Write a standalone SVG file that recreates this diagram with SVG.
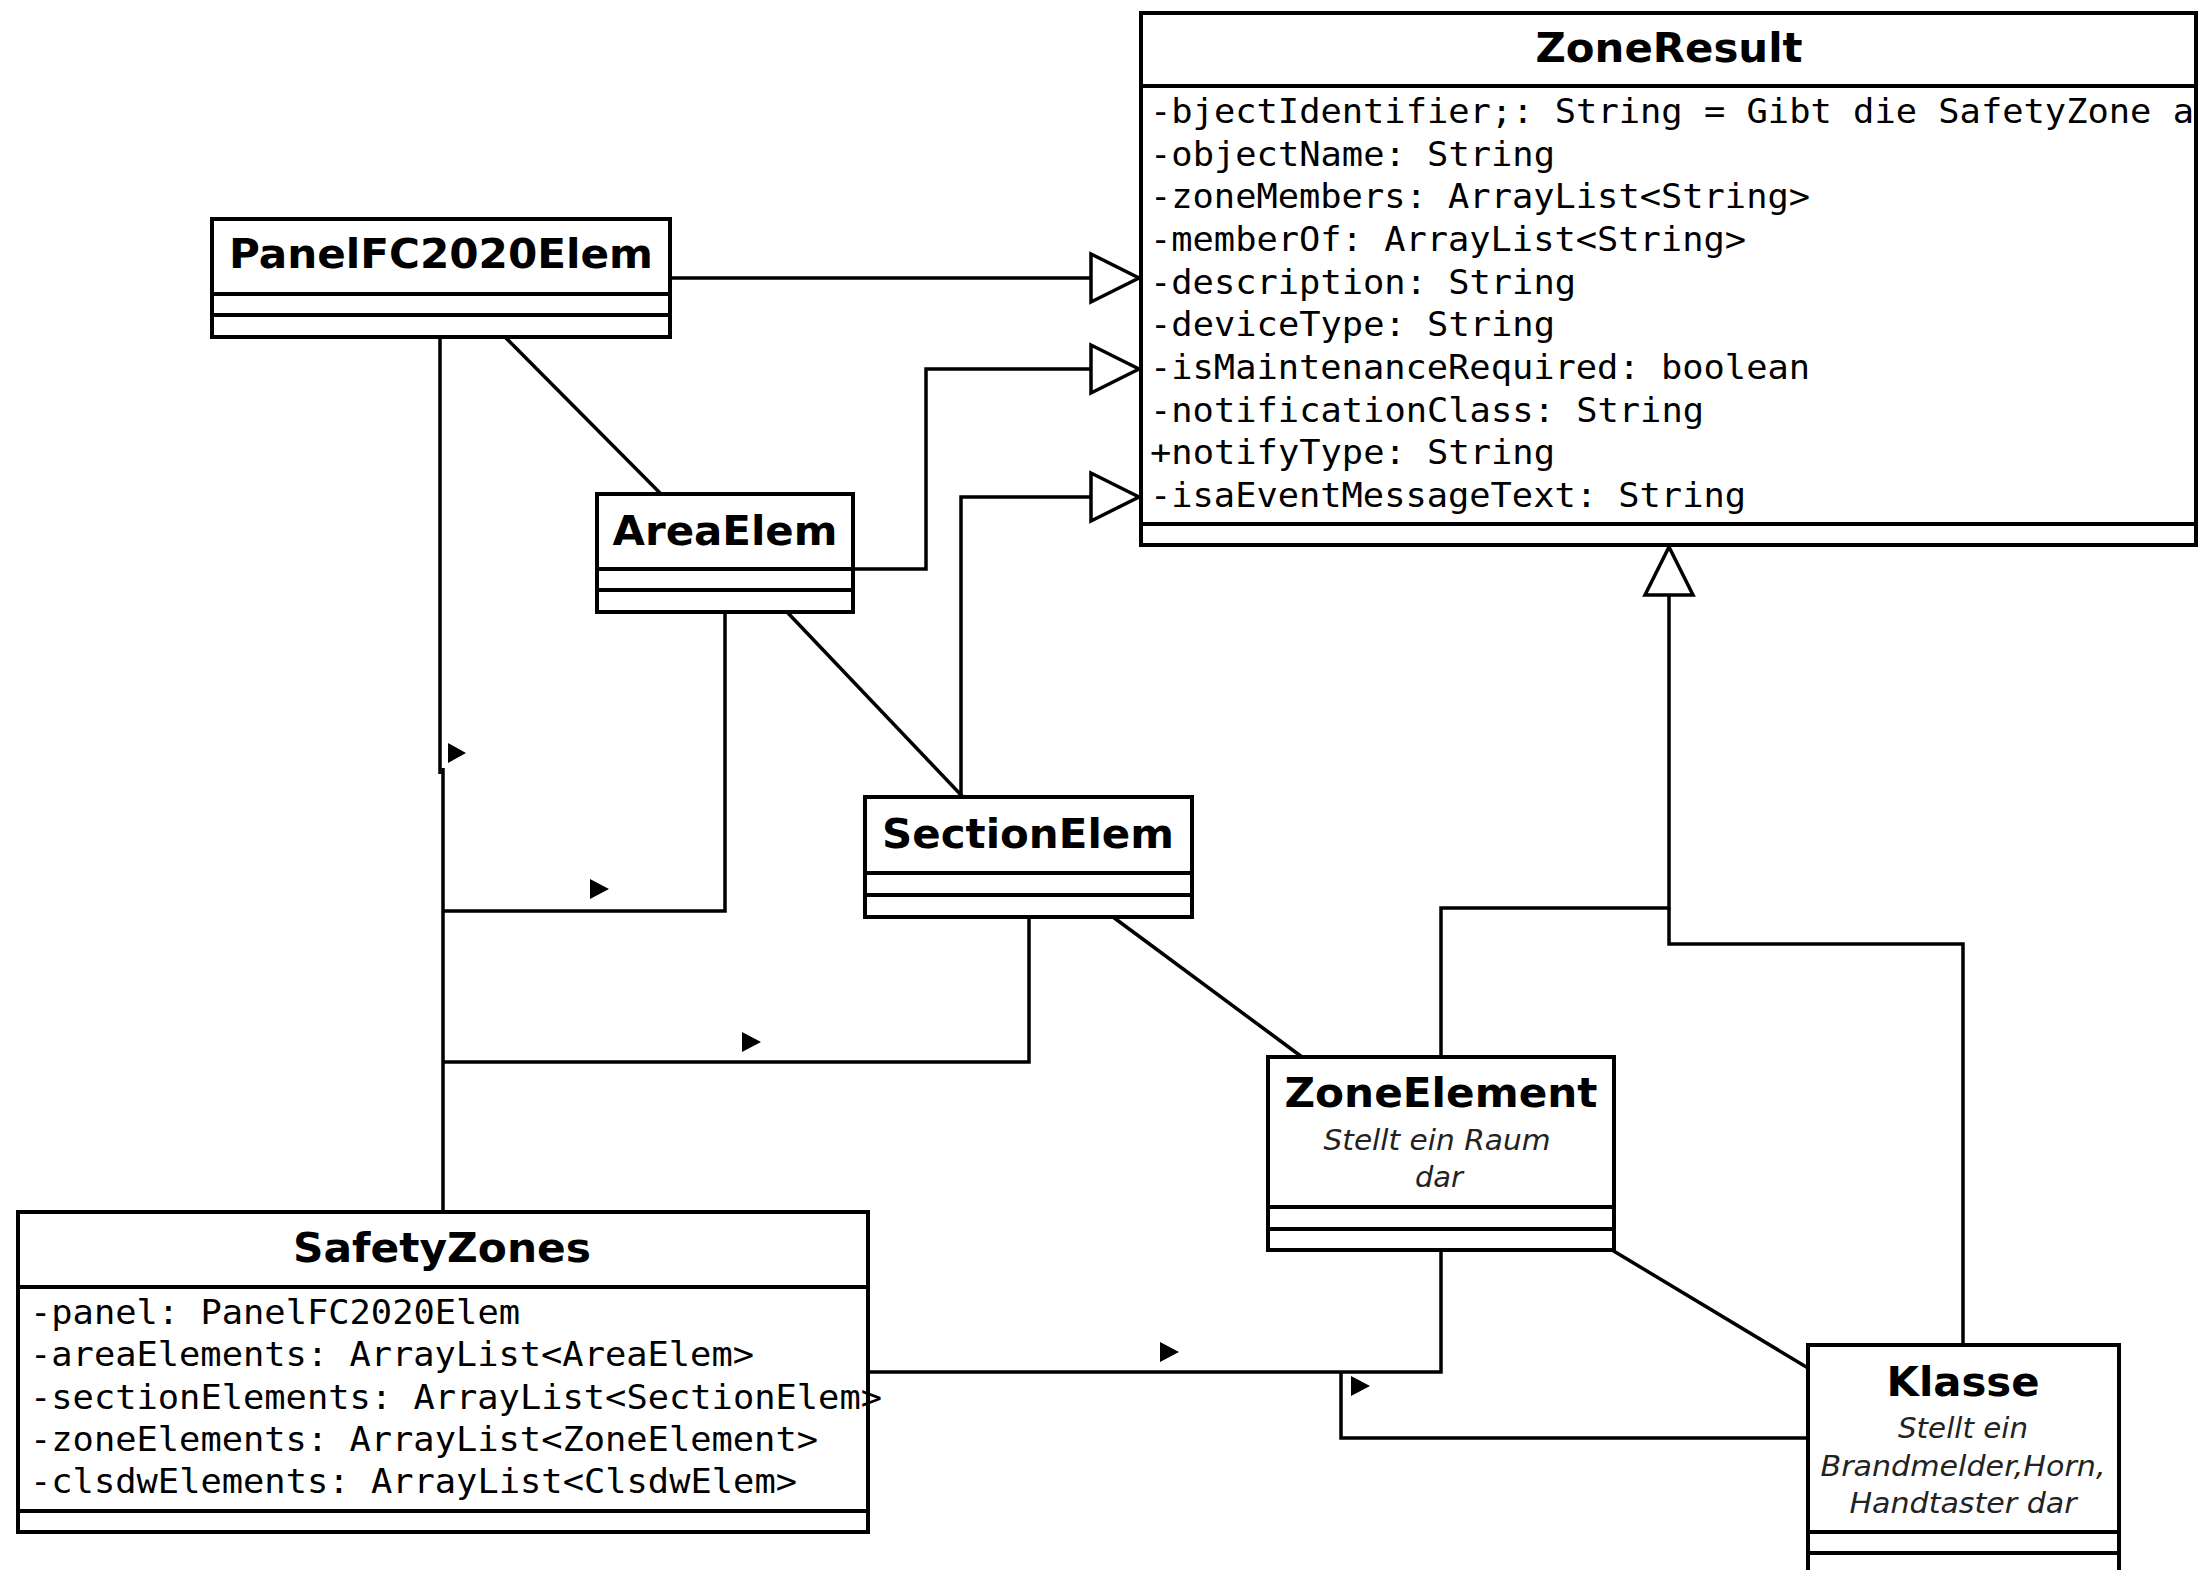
<svg xmlns="http://www.w3.org/2000/svg" width="2200" height="1570" viewBox="0 0 2200 1570">
<style>
.bg{fill:#fff}
.box{fill:#fff;stroke:#000;stroke-width:4}
.sep{stroke:#000;stroke-width:4}
.ln{fill:none;stroke:#000;stroke-width:3.5}
.tri{fill:#000}
.title{font-family:"DejaVu Sans",sans-serif;font-weight:bold;font-size:40px;text-anchor:middle;fill:#000}
.attr{font-family:"DejaVu Sans Mono",monospace;font-size:34px;fill:#000}
.note{font-family:"DejaVu Sans",sans-serif;font-style:italic;font-size:29px;text-anchor:middle;fill:#222}
</style>
<defs>
<marker id="gen" markerUnits="userSpaceOnUse" viewBox="-3 -27 54 54" refX="48" refY="0" markerWidth="54" markerHeight="54" orient="auto" overflow="visible">
<path d="M0,-24 L48,0 L0,24 Z" fill="#fff" stroke="#000" stroke-width="3.5"/>
</marker>
</defs>
<rect class="bg" x="0" y="0" width="2200" height="1570"/>
<g id="connectors">
<path class="ln" d="M670,278 L1139,278" marker-end="url(#gen)"/>
<path class="ln" d="M853,569 L926,569 L926,369 L1139,369" marker-end="url(#gen)"/>
<path class="ln" d="M961,797 L961,497 L1139,497" marker-end="url(#gen)"/>
<path class="ln" d="M1441,1057 L1441,908 L1669,908 L1669,547" marker-end="url(#gen)"/>
<path class="ln" d="M1963,1345 L1963,944 L1669,944 L1669,908"/>
<path class="ln" d="M505,337 L661,494"/>
<path class="ln" d="M787,612 L963,797"/>
<path class="ln" d="M1113,917 L1302,1057"/>
<path class="ln" d="M1612,1250 L1808,1368"/>
<path class="ln" d="M440,337 L440,774"/>
<path class="ln" d="M443,768 L443,1212"/>
<path class="ln" d="M725,612 L725,911 L443,911"/>
<path class="ln" d="M1029,917 L1029,1062 L443,1062"/>
<path class="ln" d="M1441,1250 L1441,1372 L868,1372"/>
<path class="ln" d="M1808,1438 L1341,1438 L1341,1372"/>
<polygon class="tri" points="448,743 466,753 448,763"/>
<polygon class="tri" points="590,879 609,889 590,899"/>
<polygon class="tri" points="742,1032 761,1042 742,1052"/>
<polygon class="tri" points="1160,1342 1179,1352 1160,1362"/>
<polygon class="tri" points="1351,1376 1370,1386 1351,1396"/>
</g>
<g id="ZoneResult">
<rect class="box" x="1141" y="13" width="1055" height="532"/>
<line class="sep" x1="1141" y1="86" x2="2196" y2="86"/>
<line class="sep" x1="1141" y1="524" x2="2196" y2="524"/>
<text class="title" x="1669" y="62" textLength="267" lengthAdjust="spacingAndGlyphs">ZoneResult</text>
<text class="attr" x="1150" y="123" textLength="1044" lengthAdjust="spacingAndGlyphs">-bjectIdentifier;: String = Gibt die SafetyZone a</text>
<text class="attr" x="1150" y="166" textLength="405" lengthAdjust="spacingAndGlyphs">-objectName: String</text>
<text class="attr" x="1150" y="208" textLength="660" lengthAdjust="spacingAndGlyphs">-zoneMembers: ArrayList&lt;String&gt;</text>
<text class="attr" x="1150" y="251" textLength="596" lengthAdjust="spacingAndGlyphs">-memberOf: ArrayList&lt;String&gt;</text>
<text class="attr" x="1150" y="294" textLength="426" lengthAdjust="spacingAndGlyphs">-description: String</text>
<text class="attr" x="1150" y="336" textLength="405" lengthAdjust="spacingAndGlyphs">-deviceType: String</text>
<text class="attr" x="1150" y="379" textLength="660" lengthAdjust="spacingAndGlyphs">-isMaintenanceRequired: boolean</text>
<text class="attr" x="1150" y="422" textLength="554" lengthAdjust="spacingAndGlyphs">-notificationClass: String</text>
<text class="attr" x="1150" y="464" textLength="405" lengthAdjust="spacingAndGlyphs">+notifyType: String</text>
<text class="attr" x="1150" y="507" textLength="596" lengthAdjust="spacingAndGlyphs">-isaEventMessageText: String</text>
</g>
<g id="PanelFC2020Elem">
<rect class="box" x="212" y="219" width="458" height="118"/>
<line class="sep" x1="212" y1="294" x2="670" y2="294"/>
<line class="sep" x1="212" y1="315" x2="670" y2="315"/>
<text class="title" x="441" y="268" textLength="424" lengthAdjust="spacingAndGlyphs">PanelFC2020Elem</text>
</g>
<g id="AreaElem">
<rect class="box" x="597" y="494" width="256" height="118"/>
<line class="sep" x1="597" y1="569" x2="853" y2="569"/>
<line class="sep" x1="597" y1="590" x2="853" y2="590"/>
<text class="title" x="725" y="545" textLength="225" lengthAdjust="spacingAndGlyphs">AreaElem</text>
</g>
<g id="SectionElem">
<rect class="box" x="865" y="797" width="327" height="120"/>
<line class="sep" x1="865" y1="873" x2="1192" y2="873"/>
<line class="sep" x1="865" y1="895" x2="1192" y2="895"/>
<text class="title" x="1028" y="848" textLength="292" lengthAdjust="spacingAndGlyphs">SectionElem</text>
</g>
<g id="ZoneElement">
<rect class="box" x="1268" y="1057" width="346" height="193"/>
<line class="sep" x1="1268" y1="1207" x2="1614" y2="1207"/>
<line class="sep" x1="1268" y1="1229" x2="1614" y2="1229"/>
<text class="title" x="1441" y="1107" textLength="313" lengthAdjust="spacingAndGlyphs">ZoneElement</text>
<text class="note" x="1437" y="1150" textLength="227" lengthAdjust="spacingAndGlyphs">Stellt ein Raum</text>
<text class="note" x="1439" y="1187" textLength="48" lengthAdjust="spacingAndGlyphs">dar</text>
</g>
<g id="SafetyZones">
<rect class="box" x="18" y="1212" width="850" height="320"/>
<line class="sep" x1="18" y1="1287" x2="868" y2="1287"/>
<line class="sep" x1="18" y1="1511" x2="868" y2="1511"/>
<text class="title" x="442" y="1262" textLength="298" lengthAdjust="spacingAndGlyphs">SafetyZones</text>
<text class="attr" x="30" y="1324" textLength="490" lengthAdjust="spacingAndGlyphs">-panel: PanelFC2020Elem</text>
<text class="attr" x="30" y="1366" textLength="724" lengthAdjust="spacingAndGlyphs">-areaElements: ArrayList&lt;AreaElem&gt;</text>
<text class="attr" x="30" y="1409" textLength="852" lengthAdjust="spacingAndGlyphs">-sectionElements: ArrayList&lt;SectionElem&gt;</text>
<text class="attr" x="30" y="1451" textLength="788" lengthAdjust="spacingAndGlyphs">-zoneElements: ArrayList&lt;ZoneElement&gt;</text>
<text class="attr" x="30" y="1493" textLength="767" lengthAdjust="spacingAndGlyphs">-clsdwElements: ArrayList&lt;ClsdwElem&gt;</text>
</g>
<g id="Klasse">
<rect class="box" x="1808" y="1345" width="311" height="240"/>
<line class="sep" x1="1808" y1="1532" x2="2119" y2="1532"/>
<line class="sep" x1="1808" y1="1553" x2="2119" y2="1553"/>
<text class="title" x="1963" y="1396" textLength="153" lengthAdjust="spacingAndGlyphs">Klasse</text>
<text class="note" x="1963" y="1438" textLength="130" lengthAdjust="spacingAndGlyphs">Stellt ein</text>
<text class="note" x="1963" y="1476" textLength="285" lengthAdjust="spacingAndGlyphs">Brandmelder,Horn,</text>
<text class="note" x="1963" y="1513" textLength="227" lengthAdjust="spacingAndGlyphs">Handtaster dar</text>
</g>
</svg>
